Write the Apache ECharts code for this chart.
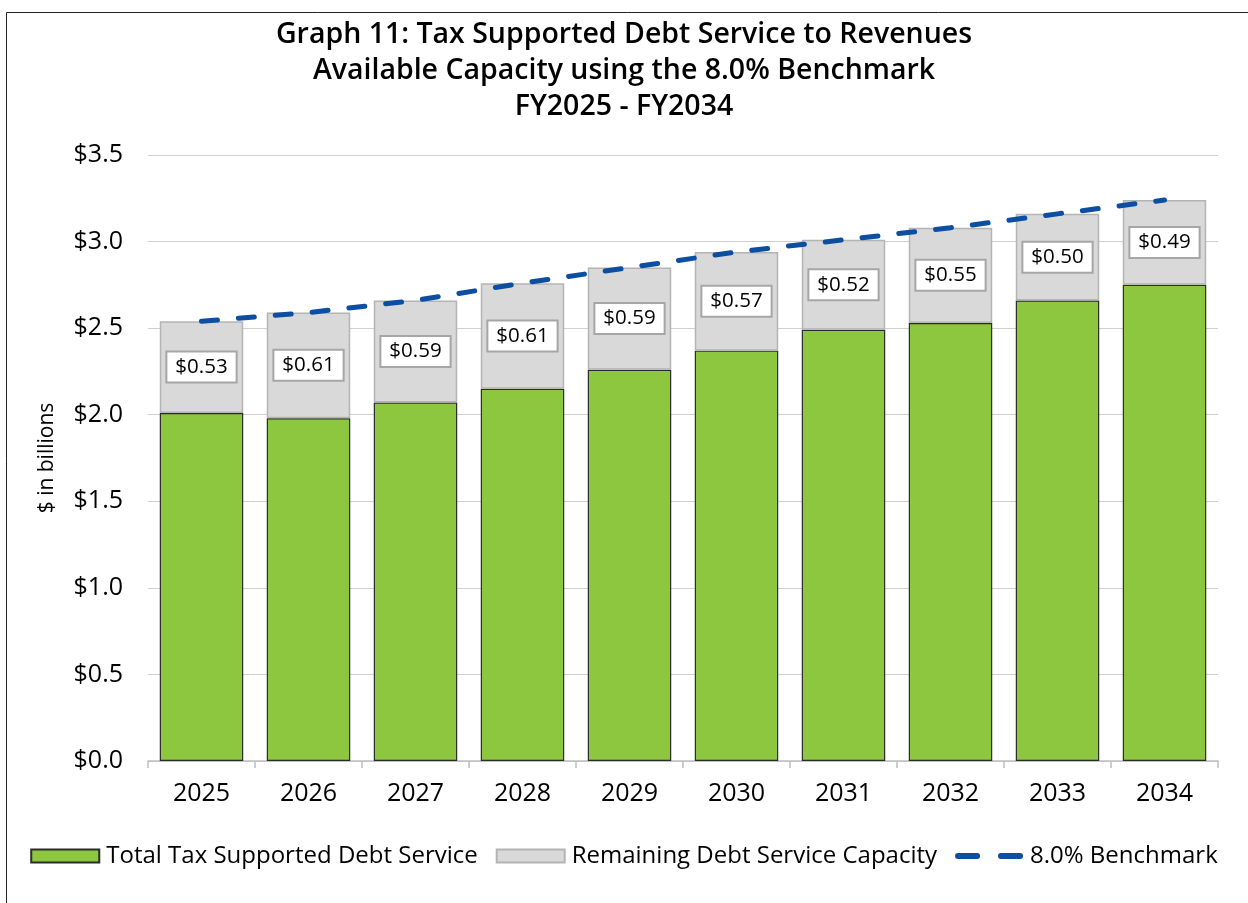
<!DOCTYPE html>
<html>
<head>
<meta charset="utf-8">
<script src="https://cdn.jsdelivr.net/npm/echarts@6/dist/echarts.min.js"></script>
<style>
  html, body { margin: 0; padding: 0; background: #fff; }
  #chart { width: 1248px; height: 903px; }
</style>
</head>
<body>
<div id="chart"></div>
<script>
// Fiscal years shown on the category axis
const years = ['2025', '2026', '2027', '2028', '2029', '2030', '2031', '2032', '2033', '2034'];
// Total tax supported debt service, $ billions
const debtService = [2.01, 1.98, 2.07, 2.15, 2.26, 2.37, 2.49, 2.53, 2.66, 2.75];
// Remaining debt service capacity under the benchmark, $ billions
const remainingCapacity = [0.53, 0.61, 0.59, 0.61, 0.59, 0.57, 0.52, 0.55, 0.50, 0.49];
// 8.0% of revenues benchmark, $ billions
const benchmark = [2.54, 2.59, 2.66, 2.76, 2.85, 2.94, 3.01, 3.08, 3.16, 3.24];
// Value axis tick values
const yTicks = [0, 0.5, 1.0, 1.5, 2.0, 2.5, 3.0, 3.5];

const font = '"Open Sans", "Liberation Sans", Arial, sans-serif';
const blue = '#0b4ea2';

// Two rounded dashes used as the legend marker of the benchmark line
const dashIcon = 'path://M2.5,0h16a2.5,2.5 0 0 1 0,5h-16a2.5,2.5 0 0 1 0,-5z' +
                 'M38.5,0h16a2.5,2.5 0 0 1 0,5h-16a2.5,2.5 0 0 1 0,-5z';

const chart = echarts.init(document.getElementById('chart'), null, { renderer: 'canvas' });

chart.setOption({
  backgroundColor: '#ffffff',
  animation: false,
  title: {
    text: 'Graph 11: Tax Supported Debt Service to Revenues\nAvailable Capacity using the 8.0% Benchmark\nFY2025 - FY2034',
    left: 'center',
    top: 12,
    textStyle: {
      fontFamily: font,
      fontSize: 28.5,
      fontWeight: 600,
      color: '#000',
      lineHeight: 36
    }
  },
  graphic: [{
    type: 'rect',
    left: 4, top: 10,
    shape: { width: 1300, height: 1000 },
    style: { fill: 'none', stroke: '#222', lineWidth: 1 },
    silent: true
  }],
  grid: { left: 148, right: 30, top: 155, bottom: 142, containLabel: false },
  legend: {
    bottom: 30,
    left: 'center',
    itemWidth: 68,
    itemHeight: 13,
    itemGap: 18,
    textStyle: { fontFamily: font, fontSize: 24, color: '#000', padding: [0, 0, 0, 2] },
    data: [
      { name: 'Total Tax Supported Debt Service', icon: 'rect' },
      { name: 'Remaining Debt Service Capacity', icon: 'rect' },
      { name: '8.0% Benchmark', icon: dashIcon, itemStyle: { color: blue } }
    ]
  },
  xAxis: {
    type: 'category',
    data: years,
    axisLine: { show: true, lineStyle: { color: '#bfbfbf', width: 1.5 } },
    axisTick: { show: true, length: 7, lineStyle: { color: '#bfbfbf', width: 1.5 } },
    axisLabel: { fontFamily: font, fontSize: 25, color: '#000', margin: 20 }
  },
  yAxis: {
    type: 'value',
    min: yTicks[0],
    max: yTicks[yTicks.length - 1],
    interval: 0.5,
    name: '$ in billions',
    nameLocation: 'middle',
    nameGap: 90,
    nameTextStyle: { fontFamily: font, fontSize: 21, color: '#000' },
    axisLine: { show: false },
    axisTick: { show: false },
    splitLine: { lineStyle: { color: '#d0d0d0', width: 1.2 } },
    axisLabel: {
      fontFamily: font, fontSize: 25, color: '#000', margin: 25,
      formatter: v => '$' + v.toFixed(1)
    }
  },
  series: [
    {
      name: 'Total Tax Supported Debt Service',
      type: 'bar',
      stack: 'total',
      barCategoryGap: '22%',
      data: debtService,
      itemStyle: { color: '#8dc63f', borderColor: '#2b2b2b', borderWidth: 1.2 }
    },
    {
      name: 'Remaining Debt Service Capacity',
      type: 'bar',
      stack: 'total',
      data: remainingCapacity,
      itemStyle: { color: '#d9d9d9', borderColor: '#b4b4b4', borderWidth: 1.5 },
      label: {
        show: true,
        position: 'inside',
        formatter: p => '$' + p.value.toFixed(2),
        fontFamily: font,
        fontSize: 20.5,
        color: '#000',
        backgroundColor: '#ffffff',
        borderColor: '#a6a6a6',
        borderWidth: 2,
        padding: [5, 8, 3, 8]
      }
    },
    {
      name: '8.0% Benchmark',
      type: 'line',
      data: benchmark,
      symbol: 'none',
      smooth: false,
      z: 5,
      lineStyle: { color: blue, width: 5, type: [16, 21], cap: 'round' },
      itemStyle: { color: blue }
    }
  ]
});
</script>
</body>
</html>
